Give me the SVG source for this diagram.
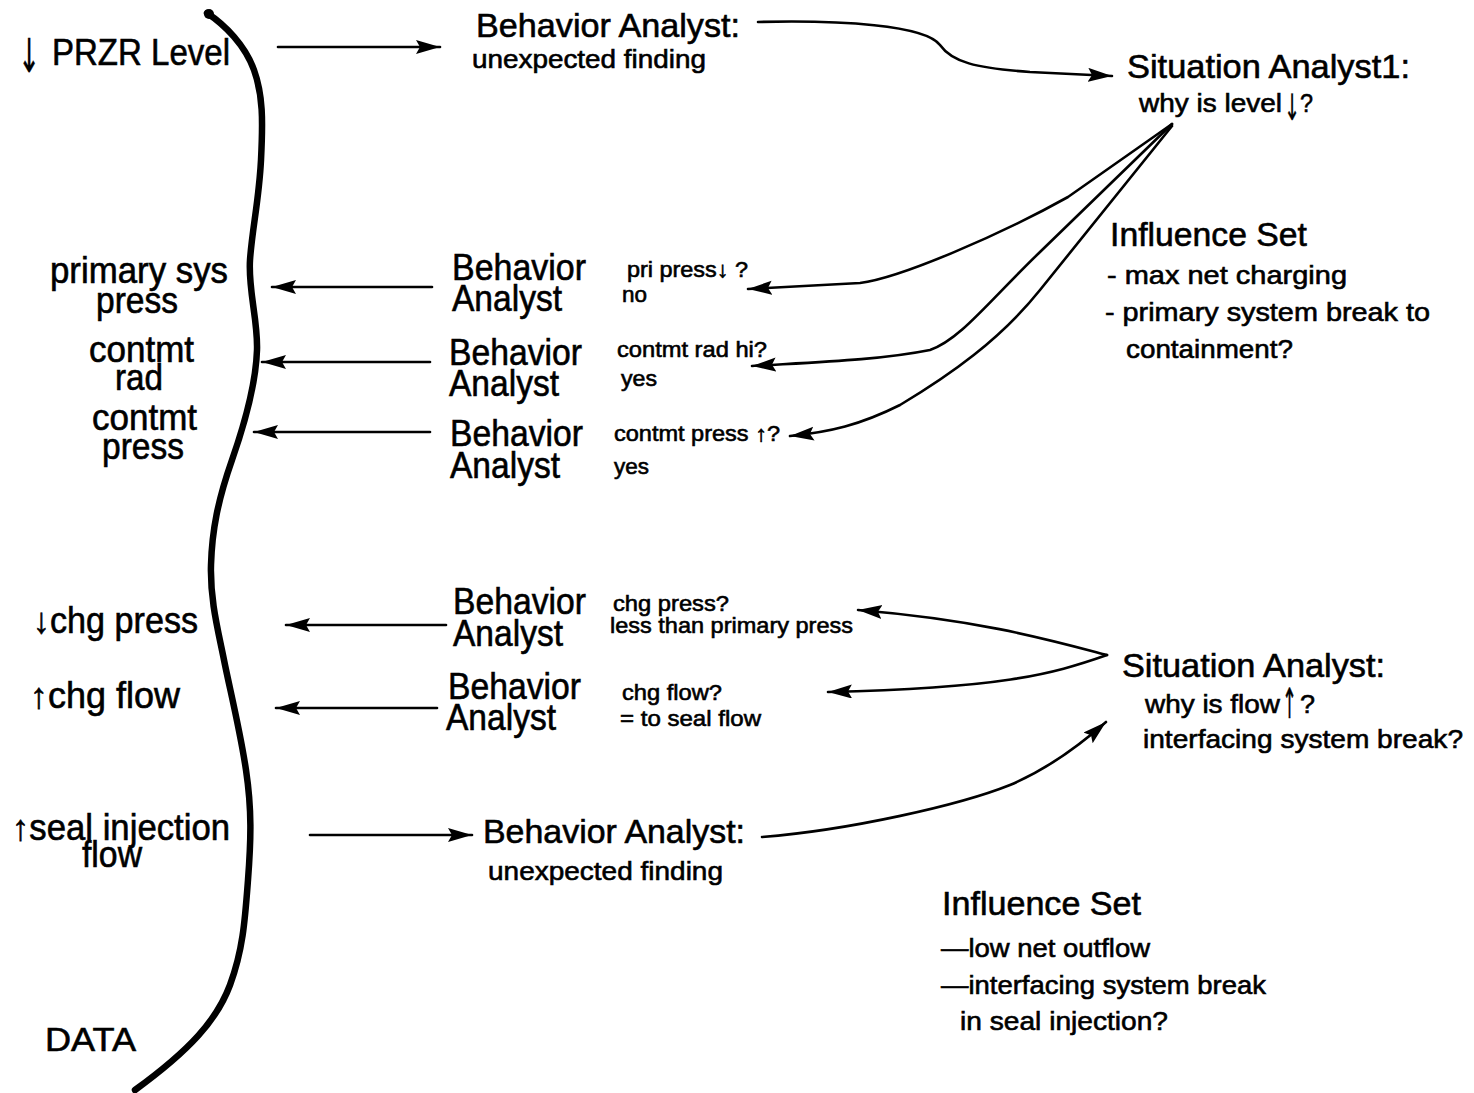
<svg xmlns="http://www.w3.org/2000/svg" width="1474" height="1093" viewBox="0 0 1474 1093">
  <style>
    text { font-family: "Liberation Sans", Arial, Helvetica, sans-serif; fill: #000; stroke: #000; stroke-width: 0.6; }
    .big { font-size: 36px; }
    .hdr { font-size: 34px; }
    .mid { font-size: 26px; }
    .sm { font-size: 22px; }
    .arw { font-family: "DejaVu Sans", sans-serif; stroke-width: 0.3; }
    .conn { fill: none; stroke: #000; stroke-width: 2.6; stroke-linecap: round; }
    .wall { fill: none; stroke: #000; stroke-width: 6.5; stroke-linecap: round; stroke-linejoin: round; }
  </style>
  <defs>
    <marker id="head" markerUnits="userSpaceOnUse" markerWidth="26" markerHeight="16" refX="24" refY="7" orient="auto">
      <path d="M0,0 L24,7 L0,14 L4,7 z" fill="#000"/>
    </marker>
  </defs>
  <rect width="1474" height="1093" fill="#fff"/>

  <!-- data boundary -->
  <g id="data-boundary">
    <path class="wall" d="M207,13 C225,25 245,45 254,70 S263,120 261,160 S252,230 250,260 S258,320 257,350 S246,420 232,460 S212,530 211,565 S218,630 224,660 S240,730 246,770 S251,840 248,880 S243,950 230,985 S190,1050 135,1090"/>
    <circle cx="209" cy="14" r="5"/>
  </g>

  <!-- data items -->
  <g id="data-przr">
    <text class="big arw" transform="translate(18,72) scale(1,1.3)" x="0" y="0" textLength="22" lengthAdjust="spacingAndGlyphs">↓</text>
    <text class="big" x="52" y="65" textLength="178" lengthAdjust="spacingAndGlyphs">PRZR Level</text>
  </g>
  <g id="data-prisys">
    <text class="big" x="50" y="283" textLength="178" lengthAdjust="spacingAndGlyphs">primary sys</text>
    <text class="big" x="96" y="313" textLength="82" lengthAdjust="spacingAndGlyphs">press</text>
  </g>
  <g id="data-contmt-rad">
    <text class="big" x="89" y="362" textLength="105" lengthAdjust="spacingAndGlyphs">contmt</text>
    <text class="big" x="115" y="390" textLength="48" lengthAdjust="spacingAndGlyphs">rad</text>
  </g>
  <g id="data-contmt-press">
    <text class="big" x="92" y="430" textLength="105" lengthAdjust="spacingAndGlyphs">contmt</text>
    <text class="big" x="102" y="459" textLength="82" lengthAdjust="spacingAndGlyphs">press</text>
  </g>
  <g id="data-chg-press"><text class="big" x="33" y="633" textLength="165" lengthAdjust="spacingAndGlyphs">↓chg press</text></g>
  <g id="data-chg-flow"><text class="big" x="30" y="708" textLength="150" lengthAdjust="spacingAndGlyphs">↑chg flow</text></g>
  <g id="data-seal">
    <text class="big" x="12" y="840" textLength="218" lengthAdjust="spacingAndGlyphs">↑seal injection</text>
    <text class="big" x="82" y="867" textLength="60" lengthAdjust="spacingAndGlyphs">flow</text>
  </g>
  <g id="data-label"><text class="hdr" x="45" y="1051" textLength="91" lengthAdjust="spacingAndGlyphs">DATA</text></g>

  <!-- analysts -->
  <g id="ba-level">
    <text class="hdr" x="476" y="37" textLength="264" lengthAdjust="spacingAndGlyphs">Behavior Analyst:</text>
    <text class="mid" x="472" y="68" textLength="234" lengthAdjust="spacingAndGlyphs">unexpected finding</text>
  </g>
  <g id="sa1">
    <text class="hdr" x="1127" y="78" textLength="283" lengthAdjust="spacingAndGlyphs">Situation Analyst1:</text>
    <text class="mid" x="1139" y="112" textLength="143" lengthAdjust="spacingAndGlyphs">why is level</text>
    <text class="mid arw" transform="translate(1284,120) scale(1,1.4)" x="0" y="0" font-size="32" textLength="16" lengthAdjust="spacingAndGlyphs">↓</text>
    <text class="mid" x="1300" y="112" textLength="13" lengthAdjust="spacingAndGlyphs">?</text>
  </g>
  <g id="infl1">
    <text class="hdr" x="1110" y="246" textLength="197" lengthAdjust="spacingAndGlyphs">Influence Set</text>
    <text class="mid" x="1107" y="284" textLength="240" lengthAdjust="spacingAndGlyphs">- max net charging</text>
    <text class="mid" x="1105" y="321" textLength="325" lengthAdjust="spacingAndGlyphs">- primary system break to</text>
    <text class="mid" x="1126" y="358" textLength="167" lengthAdjust="spacingAndGlyphs">containment?</text>
  </g>
  <g id="ba-pri">
    <text class="big" x="452" y="280" textLength="134" lengthAdjust="spacingAndGlyphs">Behavior</text>
    <text class="big" x="452" y="311" textLength="110" lengthAdjust="spacingAndGlyphs">Analyst</text>
    <text class="sm" x="627" y="277" textLength="121" lengthAdjust="spacingAndGlyphs">pri press↓ ?</text>
    <text class="sm" x="622" y="302" textLength="25" lengthAdjust="spacingAndGlyphs">no</text>
  </g>
  <g id="ba-rad">
    <text class="big" x="449" y="365" textLength="133" lengthAdjust="spacingAndGlyphs">Behavior</text>
    <text class="big" x="449" y="396" textLength="110" lengthAdjust="spacingAndGlyphs">Analyst</text>
    <text class="sm" x="617" y="357" textLength="150" lengthAdjust="spacingAndGlyphs">contmt rad hi?</text>
    <text class="sm" x="621" y="386" textLength="36" lengthAdjust="spacingAndGlyphs">yes</text>
  </g>
  <g id="ba-cpress">
    <text class="big" x="450" y="446" textLength="133" lengthAdjust="spacingAndGlyphs">Behavior</text>
    <text class="big" x="450" y="478" textLength="110" lengthAdjust="spacingAndGlyphs">Analyst</text>
    <text class="sm" x="614" y="441" textLength="166" lengthAdjust="spacingAndGlyphs">contmt press ↑?</text>
    <text class="sm" x="614" y="474" textLength="35" lengthAdjust="spacingAndGlyphs">yes</text>
  </g>
  <g id="ba-chgp">
    <text class="big" x="453" y="614" textLength="133" lengthAdjust="spacingAndGlyphs">Behavior</text>
    <text class="big" x="453" y="646" textLength="110" lengthAdjust="spacingAndGlyphs">Analyst</text>
    <text class="sm" x="613" y="611" textLength="116" lengthAdjust="spacingAndGlyphs">chg press?</text>
    <text class="sm" x="610" y="633" textLength="243" lengthAdjust="spacingAndGlyphs">less than primary press</text>
  </g>
  <g id="ba-chgf">
    <text class="big" x="448" y="699" textLength="133" lengthAdjust="spacingAndGlyphs">Behavior</text>
    <text class="big" x="446" y="730" textLength="110" lengthAdjust="spacingAndGlyphs">Analyst</text>
    <text class="sm" x="622" y="700" textLength="100" lengthAdjust="spacingAndGlyphs">chg flow?</text>
    <text class="sm" x="620" y="726" textLength="141" lengthAdjust="spacingAndGlyphs">= to seal flow</text>
  </g>
  <g id="ba-seal">
    <text class="hdr" x="483" y="843" textLength="262" lengthAdjust="spacingAndGlyphs">Behavior Analyst:</text>
    <text class="mid" x="488" y="880" textLength="235" lengthAdjust="spacingAndGlyphs">unexpected finding</text>
  </g>
  <g id="sa2">
    <text class="hdr" x="1122" y="677" textLength="263" lengthAdjust="spacingAndGlyphs">Situation Analyst:</text>
    <text class="mid" x="1145" y="713" textLength="135" lengthAdjust="spacingAndGlyphs">why is flow</text>
    <text class="mid arw" transform="translate(1282,718) scale(1,1.6)" x="0" y="0" font-size="32" textLength="15" lengthAdjust="spacingAndGlyphs">↑</text>
    <text class="mid" x="1300" y="713" textLength="15" lengthAdjust="spacingAndGlyphs">?</text>
    <text class="mid" x="1143" y="748" textLength="320" lengthAdjust="spacingAndGlyphs">interfacing system break?</text>
  </g>
  <g id="infl2">
    <text class="hdr" x="942" y="915" textLength="199" lengthAdjust="spacingAndGlyphs">Influence Set</text>
    <text class="mid" x="941" y="957" textLength="209" lengthAdjust="spacingAndGlyphs">—low net outflow</text>
    <text class="mid" x="941" y="994" textLength="325" lengthAdjust="spacingAndGlyphs">—interfacing system break</text>
    <text class="mid" x="960" y="1030" textLength="208" lengthAdjust="spacingAndGlyphs">in seal injection?</text>
  </g>

  <!-- connectors -->
  <g id="connectors">
    <path class="conn" marker-end="url(#head)" d="M278,47 L440,47"/>
    <path class="conn" marker-end="url(#head)" d="M758,22 C840,20 925,25 940,45 C952,62 975,68 1030,72 L1112,76"/>
    <path class="conn" marker-end="url(#head)" d="M1172,124 L1068,197 C1000,235 900,278 860,283 L748,289"/>
    <path class="conn" marker-end="url(#head)" d="M1172,124 L1040,252 C990,300 960,340 930,350 C880,360 820,362 752,366"/>
    <path class="conn" marker-end="url(#head)" d="M1172,126 C1120,190 1080,240 1040,290 C1000,340 950,375 900,405 C860,425 830,432 790,436"/>
    <path class="conn" marker-end="url(#head)" d="M432,287 L272,287"/>
    <path class="conn" marker-end="url(#head)" d="M430,362 L262,362"/>
    <path class="conn" marker-end="url(#head)" d="M430,432 L254,432"/>
    <path class="conn" marker-end="url(#head)" d="M446,625 L286,625"/>
    <path class="conn" marker-end="url(#head)" d="M437,708 L276,708"/>
    <path class="conn" marker-end="url(#head)" d="M310,835 L472,835"/>
    <path class="conn" marker-end="url(#head)" d="M762,837 C850,830 960,805 1010,785 C1050,768 1080,745 1106,722"/>
    <path class="conn" marker-end="url(#head)" d="M1107,655 C1050,640 980,620 858,610"/>
    <path class="conn" marker-end="url(#head)" d="M1107,655 C1050,675 1000,688 828,692"/>
  </g>
</svg>
